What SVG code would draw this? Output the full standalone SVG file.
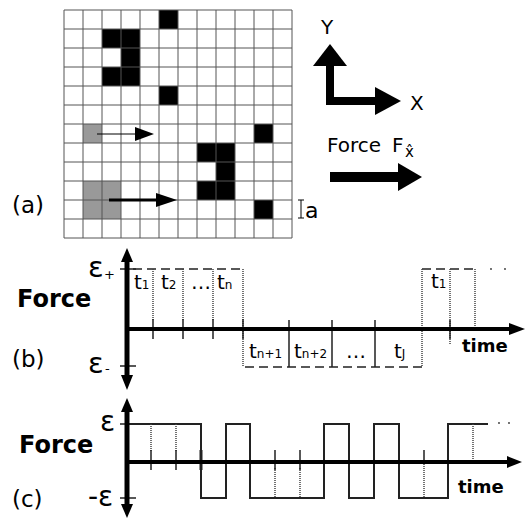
<svg xmlns="http://www.w3.org/2000/svg" width="527" height="519" viewBox="0 0 527 519">
  <style>
    .txt { font-family: "DejaVu Sans", sans-serif; fill: #000; }
    .bold { font-family: "DejaVu Sans", sans-serif; font-weight: bold; fill: #000; }
    .grid { stroke: #555; stroke-width: 1; fill: none; }
    .axis { stroke: #000; fill: none; }
    .dash { stroke: #222; stroke-width: 1.5; fill: none; stroke-dasharray: 9 5; }
    .dot { stroke: #444; stroke-width: 1.5; fill: none; stroke-dasharray: 1 1; }
    .tick { stroke: #222; stroke-width: 1.5; fill: none; }
    .wave { stroke: #222; stroke-width: 2; fill: none; }
  </style>

  <rect width="527" height="519" fill="#fff"/>

  <!-- (a) lattice -->
  <g id="lattice">
    <!-- occupied sites -->
    <g fill="#000">
      <rect x="159" y="10" width="19" height="19"/>
      <rect x="102" y="29" width="38" height="19"/>
      <rect x="121" y="48" width="19" height="19"/>
      <rect x="102" y="67" width="38" height="19"/>
      <rect x="159" y="86" width="19" height="19"/>
      <rect x="254" y="124" width="19" height="19"/>
      <rect x="197" y="143" width="38" height="19"/>
      <rect x="216" y="162" width="19" height="19"/>
      <rect x="197" y="181" width="38" height="19"/>
      <rect x="254" y="200" width="19" height="19"/>
    </g>
    <!-- driven particles -->
    <g fill="#999">
      <rect x="83" y="124" width="19" height="19"/>
      <rect x="83" y="181" width="38" height="38"/>
    </g>
    <path class="grid" d="M64,10V238M83,10V238M102,10V238M121,10V238M140,10V238M159,10V238M178,10V238M197,10V238M216,10V238M235,10V238M254,10V238M273,10V238M292,10V238
      M64,10H292M64,29H292M64,48H292M64,67H292M64,86H292M64,105H292M64,124H292M64,143H292M64,162H292M64,181H292M64,200H292M64,219H292M64,238H292"/>
    <!-- displacement arrows -->
    <line x1="97" y1="134" x2="137" y2="134" stroke="#000" stroke-width="1"/>
    <polygon points="135,127 154,134 135,141" fill="#000"/>
    <line x1="109" y1="200" x2="158" y2="200" stroke="#000" stroke-width="3"/>
    <polygon points="156,193 177,200 156,207" fill="#000"/>
  </g>

  <!-- lattice spacing -->
  <g id="spacing">
    <path d="M301,200V218M298,200H304M298,218H304" stroke="#000" stroke-width="1" fill="none"/>
    <text class="txt" x="305" y="218" font-size="22">a</text>
  </g>

  <text class="txt" x="12" y="213" font-size="23">(a)</text>

  <!-- coordinate axes -->
  <g id="coords">
    <path d="M330,62V101H378" stroke="#000" stroke-width="8" fill="none"/>
    <polygon points="313,66 330,44 347,66" fill="#000"/>
    <polygon points="375,87 401,101 375,115" fill="#000"/>
    <text class="txt" x="321" y="34" font-size="20">Y</text>
    <text class="txt" x="410" y="110" font-size="20">X</text>
  </g>

  <!-- applied force -->
  <g id="force">
    <text class="txt" x="327" y="152" font-size="20">Force</text>
    <text class="txt" x="392" y="152" font-size="20">F</text>
    <text class="txt" x="405" y="157" font-size="15">x̂</text>
    <line x1="330" y1="177" x2="401" y2="177" stroke="#000" stroke-width="10"/>
    <polygon points="398,163 422,177 398,191" fill="#000"/>
  </g>

  <!-- (b) random sequence -->
  <g id="panel-b">
    <text class="bold" x="17" y="307" font-size="24">Force</text>
    <text class="txt" x="12" y="367" font-size="23">(b)</text>
    <text class="txt" x="88" y="277" font-size="29">ε</text>
    <text class="txt" x="104" y="279" font-size="13">+</text>
    <text class="txt" x="88" y="373" font-size="29">ε</text>
    <text class="txt" x="105" y="373" font-size="13">-</text>

    <g id="levels-b">
      <path class="dash" d="M133,269H240"/>
      <path class="dash" d="M422,269H476"/>
      <circle cx="491" cy="269" r="0.9" fill="#333"/>
      <circle cx="505" cy="269" r="0.9" fill="#333"/>
      <path class="dash" d="M245,367H422"/>
      <path class="dot" d="M153,269V321M183,269V321M213,269V321M243,269V367M422,269V367M450,269V345M475,269V329"/>
      <path class="tick" d="M153,319V339M183,319V339M213,319V339M243,319V339M289,320V367M332,320V367M375,320V367M450,320V339M120,269H136M120,366H136"/>
    </g>

    <g class="txt" font-size="20">
      <text x="134" y="289">t<tspan font-size="12">1</tspan></text>
      <text x="161" y="289">t<tspan font-size="12">2</tspan></text>
      <text x="191" y="289">…</text>
      <text x="217" y="289">t<tspan font-size="12">n</tspan></text>
      <text x="249" y="358">t<tspan font-size="12">n+1</tspan></text>
      <text x="294" y="358">t<tspan font-size="12">n+2</tspan></text>
      <text x="346" y="358">…</text>
      <text x="394" y="358">t<tspan font-size="12">J</tspan></text>
      <text x="431" y="288">t<tspan font-size="12">1</tspan></text>
    </g>
    <text class="bold" x="462" y="352" font-size="18">time</text>

    <g id="axes-b">
      <line class="axis" x1="127" y1="260" x2="127" y2="377" stroke-width="5"/>
      <polygon points="121,262 127,248 133,262" fill="#000"/>
      <polygon points="121,375 127,390 133,375" fill="#000"/>
      <line class="axis" x1="127" y1="329" x2="511" y2="329" stroke-width="4"/>
      <polygon points="509,323 525,329 509,335" fill="#000"/>
    </g>
  </g>

  <!-- (c) telegraph signal -->
  <g id="panel-c">
    <text class="bold" x="19" y="453" font-size="24">Force</text>
    <text class="txt" x="12" y="507" font-size="23">(c)</text>
    <text class="txt" x="100" y="431" font-size="28">ε</text>
    <text class="txt" x="88" y="506" font-size="28">-ε</text>

    <path class="wave" d="M128,424H201V498H226V424H250V498H324V424H349V498H374V424H399V498H448V424H488"/>
    <circle cx="499" cy="423" r="0.9" fill="#333"/>
    <circle cx="509" cy="423" r="0.9" fill="#333"/>
    <path class="dot" d="M151,424V452M176,424V452M275,468V498M300,468V498M424,462V498M473,424V462"/>
    <path class="tick" d="M151,450V470M176,450V470M275,450V470M300,450V470M424,450V462M120,424H140M120,498H136"/>
    <line x1="201" y1="450" x2="201" y2="470" stroke="#222" stroke-width="3"/>
    <text class="bold" x="458" y="493" font-size="18">time</text>

    <g id="axes-c">
      <line class="axis" x1="127" y1="410" x2="127" y2="506" stroke-width="5"/>
      <polygon points="121,412 127,398 133,412" fill="#000"/>
      <polygon points="121,504 127,518 133,504" fill="#000"/>
      <line class="axis" x1="127" y1="462" x2="509" y2="462" stroke-width="4"/>
      <polygon points="507,456 522,462 507,468" fill="#000"/>
    </g>
  </g>
</svg>
